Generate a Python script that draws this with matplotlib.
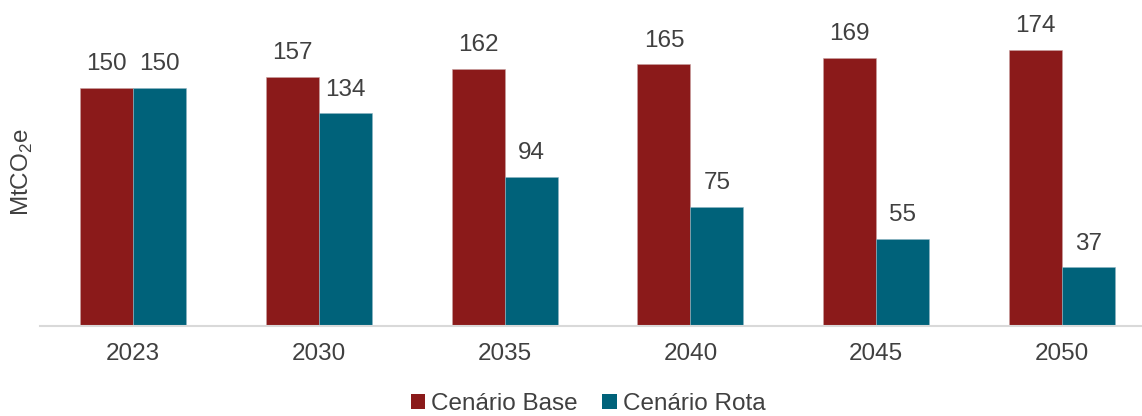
import matplotlib
matplotlib.use("Agg")
import matplotlib.pyplot as plt
import numpy as np
from matplotlib.patches import Patch

years = ["2023", "2030", "2035", "2040", "2045", "2050"]
base = [150, 157, 162, 165, 169, 174]
rota = [150, 134, 94, 75, 55, 37]
series_names = ["Cenário Base", "Cenário Rota"]
colors = ["#8B1A1A", "#00627A"]

plt.rcParams["font.family"] = ["Liberation Sans", "DejaVu Sans"]
plt.rcParams["mathtext.fontset"] = "custom"
plt.rcParams["mathtext.rm"] = "Liberation Sans"

fs = 17.5
txt = "#404040"

fig = plt.figure(figsize=(11.42, 4.16), dpi=100)
ax = fig.add_axes([40 / 1142, 90 / 416, 1102 / 1142, 326 / 416])

x = np.arange(len(years))
w = 0.285
b1 = ax.bar(x - w / 2, base, width=w, color=colors[0], edgecolor="#c9a0a0", linewidth=0.4)
b2 = ax.bar(x + w / 2, rota, width=w, color=colors[1], edgecolor="#8fb5c2", linewidth=0.4)

for bars, vals in ((b1, base), (b2, rota)):
    for rect, v in zip(bars, vals):
        ax.annotate(f"{v}", (rect.get_x() + rect.get_width() / 2, v),
                    xytext=(0, 9), textcoords="offset points",
                    ha="center", va="bottom", fontsize=fs, color=txt)

ax.set_xlim(-0.5, 5.5 - 13 / 185.8)
ax.set_ylim(0, 205.4)
ax.set_xticks(x)
ax.set_xticklabels(years, fontsize=fs, color=txt)
ax.tick_params(axis="x", length=0, pad=12)
ax.set_yticks([])
for s in ("top", "right", "left"):
    ax.spines[s].set_visible(False)
ax.spines["bottom"].set_color("#d9d9d9")
ax.spines["bottom"].set_linewidth(1.5)

fig.text(22 / 1142, 1 - 172 / 416, r"MtCO$_\mathregular{2}$e", rotation=90, ha="center",
         va="center", fontsize=fs, color=txt)

handles = [Patch(facecolor=c, label=n) for c, n in zip(colors, series_names)]
fig.legend(handles=handles, loc="center", bbox_to_anchor=(588 / 1142, 1 - 404 / 416),
           ncol=2, frameon=False, fontsize=fs, handlelength=0.6, handleheight=0.6,
           handletextpad=0.25, columnspacing=1.0, labelcolor=txt)

fig.savefig("out.png", dpi=100)
